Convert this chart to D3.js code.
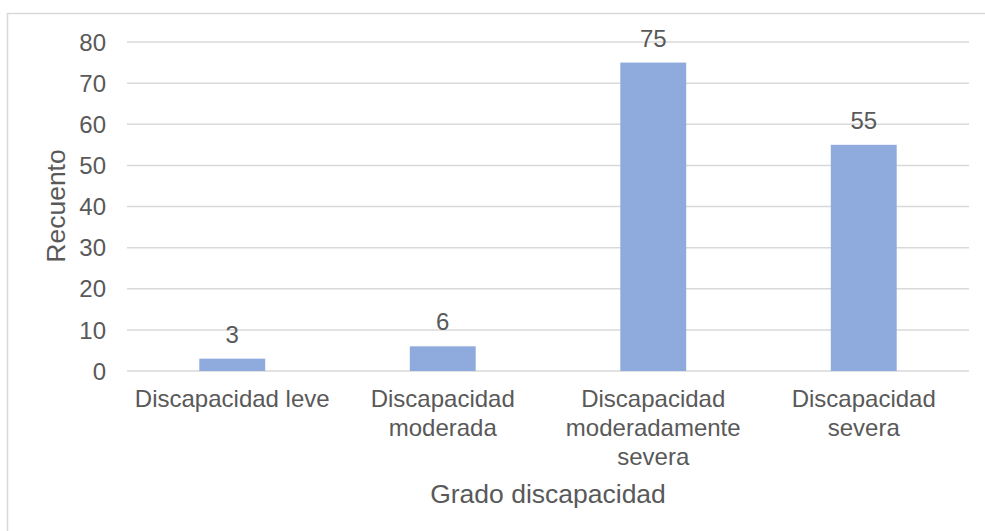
<!DOCTYPE html>
<head>
<meta charset="utf-8">
<style>
body { margin: 0; background: #fff; }
text { font-family: "Liberation Sans", Arial, sans-serif; fill: #595959; }
.grid line { stroke: #d9d9d9; stroke-width: 1.5px; }
.bar { fill: #8faadc; }
</style>
<title>Grado discapacidad</title>
</head>
<body>
<script src="https://cdn.jsdelivr.net/npm/d3@7"></script>
<script>

var categories = [
  ["Discapacidad leve"],
  ["Discapacidad", "moderada"],
  ["Discapacidad", "moderadamente", "severa"],
  ["Discapacidad", "severa"]
];
var values = [3, 6, 75, 55];
var yTicks = [0, 10, 20, 30, 40, 50, 60, 70, 80];

var width = 985, height = 531;
var plot = { left: 127, right: 969, top: 42, bottom: 371 };

var svg = d3.select("body").append("svg")
    .attr("width", width)
    .attr("height", height);

// chart frame, runs off the right/bottom edge like the source picture
svg.append("rect")
    .attr("x", 7.5).attr("y", 13.5)
    .attr("width", width).attr("height", height)
    .attr("fill", "none")
    .attr("stroke", "#d9d9d9")
    .attr("stroke-width", 1.5);

var x = d3.scaleBand()
    .domain(d3.range(categories.length))
    .range([plot.left, plot.right])
    .padding(0);

var y = d3.scaleLinear()
    .domain([0, 80])
    .range([plot.bottom, plot.top]);

var barW = x.bandwidth() * 0.313;

svg.append("g").attr("class", "grid")
  .selectAll("line")
    .data(yTicks)
  .enter().append("line")
    .attr("x1", plot.left).attr("x2", plot.right)
    .attr("y1", function(d) { return y(d); })
    .attr("y2", function(d) { return y(d); });

svg.append("g")
  .selectAll("text")
    .data(yTicks)
  .enter().append("text")
    .attr("x", 106)
    .attr("y", function(d) { return y(d); })
    .attr("dy", "0.36em")
    .attr("text-anchor", "end")
    .style("font-size", "24px")
    .text(function(d) { return d; });

svg.append("g")
  .selectAll("rect")
    .data(values)
  .enter().append("rect")
    .attr("class", "bar")
    .attr("x", function(d, i) { return x(i) + (x.bandwidth() - barW) / 2; })
    .attr("y", function(d) { return y(d); })
    .attr("width", barW)
    .attr("height", function(d) { return y(0) - y(d); });

svg.append("g")
  .selectAll("text")
    .data(values)
  .enter().append("text")
    .attr("x", function(d, i) { return x(i) + x.bandwidth() / 2; })
    .attr("y", function(d) { return y(d) - 16; })
    .attr("text-anchor", "middle")
    .style("font-size", "24px")
    .text(function(d) { return d; });

var cat = svg.append("g")
  .selectAll("text")
    .data(categories)
  .enter().append("text")
    .attr("text-anchor", "middle")
    .style("font-size", "24px");

cat.selectAll("tspan")
    .data(function(d, i) { return d.map(function(s) { return { s: s, i: i }; }); })
  .enter().append("tspan")
    .attr("x", function(d) { return x(d.i) + x.bandwidth() / 2; })
    .attr("y", function(d, j) { return 407 + j * 29; })
    .text(function(d) { return d.s; });

svg.append("text")
    .attr("x", (plot.left + plot.right) / 2)
    .attr("y", 503)
    .attr("text-anchor", "middle")
    .style("font-size", "26.5px")
    .text("Grado discapacidad");

svg.append("text")
    .attr("transform", "translate(65," + 206 + ")rotate(-90)")
    .attr("text-anchor", "middle")
    .style("font-size", "26.5px")
    .text("Recuento");

</script>
</body>
